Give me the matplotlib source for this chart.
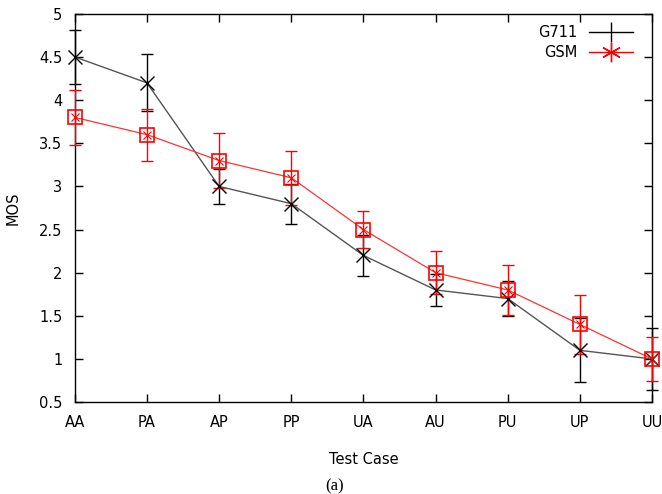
import numpy as np
import matplotlib.pyplot as plt
from matplotlib.lines import Line2D

# Test cases and MOS values
cases = ["AA", "PA", "AP", "PP", "UA", "AU", "PU", "UP", "UU"]
g711 = [4.5, 4.2, 3.0, 2.8, 2.2, 1.8, 1.7, 1.1, 1.0]
g711_err = [0.31, 0.33, 0.20, 0.23, 0.24, 0.19, 0.20, 0.37, 0.36]
gsm = [3.8, 3.6, 3.3, 3.1, 2.5, 2.0, 1.8, 1.4, 1.0]
gsm_err = [0.32, 0.30, 0.32, 0.31, 0.21, 0.25, 0.29, 0.34, 0.26]
yticks = [0.5, 1, 1.5, 2, 2.5, 3, 3.5, 4, 4.5, 5]

x = np.arange(len(cases))

fig = plt.figure(figsize=(6.62, 4.94), dpi=100)
ax = fig.add_axes([0.113, 0.186, 0.872, 0.786])

# G711: grey line, x markers, black error bars
ax.errorbar(x, g711, yerr=g711_err, fmt="none", ecolor="black",
            elinewidth=1.0, capsize=4, capthick=1.0, clip_on=False, zorder=3)
ax.plot(x, g711, color="#555555", lw=1.0, marker="x", ms=10, mew=1.0,
        mec="black", clip_on=False, zorder=4)

# GSM: red line, boxed markers, red error bars
ax.errorbar(x, gsm, yerr=gsm_err, fmt="none", ecolor="red",
            elinewidth=1.0, capsize=4, capthick=1.0, clip_on=False, zorder=3)
ax.plot(x, gsm, color="#ff3333", lw=0.9, marker="s", ms=10, mew=1.2,
        mfc="none", mec="red", clip_on=False, zorder=4)
ax.plot(x, gsm, ls="none", marker="x", ms=6, mew=0.8, color="red",
        clip_on=False, zorder=5)

ax.set_xlim(0, len(cases) - 1)
ax.set_ylim(0.5, 5)
ax.set_xticks(x)
ax.set_xticklabels(cases)
ax.set_yticks(yticks)
ax.set_yticklabels([f"{v:g}" for v in yticks])
ax.tick_params(direction="in", length=6, width=1.0, labelsize=10.5,
               top=True, right=True, pad=9)
for s in ax.spines.values():
    s.set_linewidth(1.0)

ax.set_xlabel("Test Case", fontsize=10.5, labelpad=16)
ax.set_ylabel("MOS", fontsize=10.5, labelpad=13)

handles = [
    Line2D([0], [0], color="black", lw=1.0, marker="|", ms=14, mew=1.0),
    Line2D([0], [0], color="red", lw=1.0, marker=(6, 2, 0), ms=14, mew=1.0),
]
ax.legend(handles, ["G711", "GSM"], loc="upper right", frameon=False,
          markerfirst=False, fontsize=10.5, handlelength=3.0,
          bbox_to_anchor=(0.99, 1.005), labelspacing=0.35)

fig.text(0.505, 0.008, "(a)", ha="center", fontsize=12,
         family="Liberation Serif")

fig.savefig("out.png", dpi=100)
